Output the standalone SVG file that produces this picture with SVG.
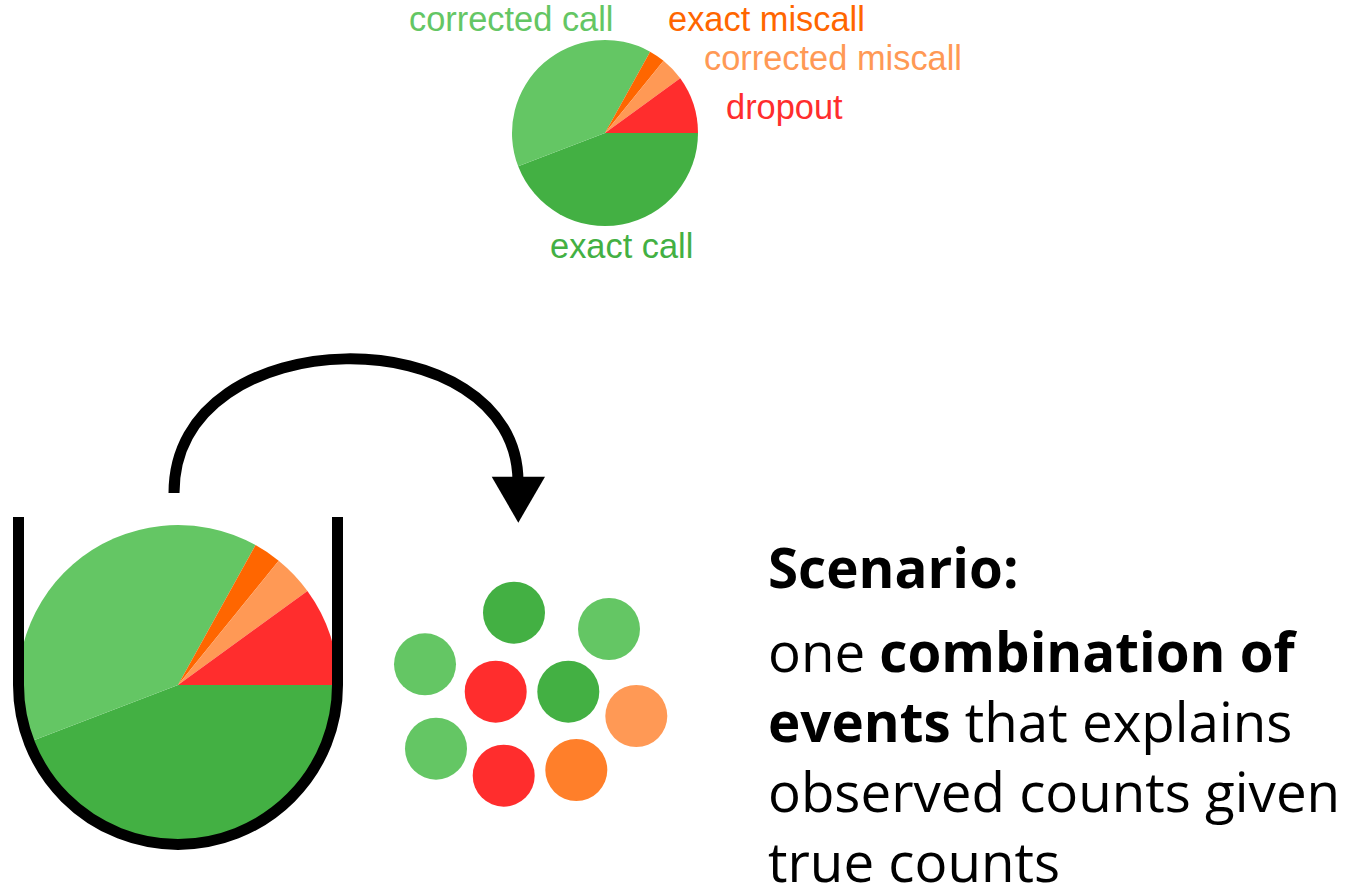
<svg xmlns="http://www.w3.org/2000/svg" width="1345" height="889" viewBox="0 0 1345 889">
<style>
.lbl{font-family:"Liberation Sans",Arial,sans-serif;font-size:34.4px}
.body{font-family:"Open Sans",sans-serif;font-size:54.7px;fill:#000}
.b{font-weight:bold}
.lg{fill:#64c664}
.dg{fill:#43b043}
.om{fill:#ff6600}
.lo{fill:#ff9955}
.rd{fill:#ff2d2d}
.oc{fill:#ff7f2a}
</style>
<rect width="1345" height="889" fill="#fff"/>
<g id="top-pie">
<path class="dg" d="M605,133 L698,133 A93,93 0 0 1 518.18,166.33 Z"/>
<path class="lg" d="M605,133 L518.18,166.33 A93,93 0 0 1 650.09,51.66 Z"/>
<path class="om" d="M605,133 L650.09,51.66 A93,93 0 0 1 663.53,60.72 Z"/>
<path class="lo" d="M605,133 L663.53,60.72 A93,93 0 0 1 680.24,78.34 Z"/>
<path class="rd" d="M605,133 L680.24,78.34 A93,93 0 0 1 698,133 Z"/>
</g>
<g id="labels">
<text class="lbl" x="409" y="31" fill="#64c664">corrected call</text>
<text class="lbl" x="668" y="31" fill="#ff6600">exact miscall</text>
<text class="lbl" x="704" y="70" fill="#ff9955">corrected miscall</text>
<text class="lbl" x="726" y="119" fill="#ff2d2d">dropout</text>
<text class="lbl" x="550" y="258" fill="#43b043">exact call</text>
</g>
<g id="cup-pie">
<path class="dg" d="M178,685 L338,685 A160,160 0 0 1 28.63,742.34 Z"/>
<path class="lg" d="M178,685 L28.63,742.34 A160,160 0 0 1 255.57,545.06 Z"/>
<path class="om" d="M178,685 L255.57,545.06 A160,160 0 0 1 278.69,560.66 Z"/>
<path class="lo" d="M178,685 L278.69,560.66 A160,160 0 0 1 307.44,590.95 Z"/>
<path class="rd" d="M178,685 L307.44,590.95 A160,160 0 0 1 338,685 Z"/>
</g>
<g id="cup">
<path d="M18.5,517 L18.5,685 A159.5,159.5 0 0 0 337.5,685 L337.5,517" fill="none" stroke="#000" stroke-width="11"/>
</g>
<g id="connectors">
<path d="M174,493 C174,316 518,316 518,482" fill="none" stroke="#000" stroke-width="11"/>
<polygon points="491.7,476.7 545,476.7 518.3,522.7" fill="#000"/>
</g>
<g id="events">
<circle class="dg" cx="514" cy="612.7" r="31"/>
<circle class="lg" cx="609" cy="629" r="31"/>
<circle class="lg" cx="425" cy="664.3" r="31"/>
<circle class="rd" cx="495.7" cy="691.7" r="31"/>
<circle class="dg" cx="568.3" cy="691.7" r="31"/>
<circle class="lo" cx="636.3" cy="716" r="31"/>
<circle class="lg" cx="436" cy="748.7" r="31"/>
<circle class="rd" cx="503.7" cy="775.7" r="31"/>
<circle class="oc" cx="576.3" cy="770" r="31"/>
</g>
<g id="scenario-text">
<text class="body b" x="768" y="588">Scenario:</text>
<text class="body" x="768" y="672">one <tspan class="b">combination of</tspan></text>
<text class="body" x="768" y="742"><tspan class="b">events</tspan> that explains</text>
<text class="body" x="768" y="812">observed counts given</text>
<text class="body" x="768" y="882">true counts</text>
</g>
</svg>
